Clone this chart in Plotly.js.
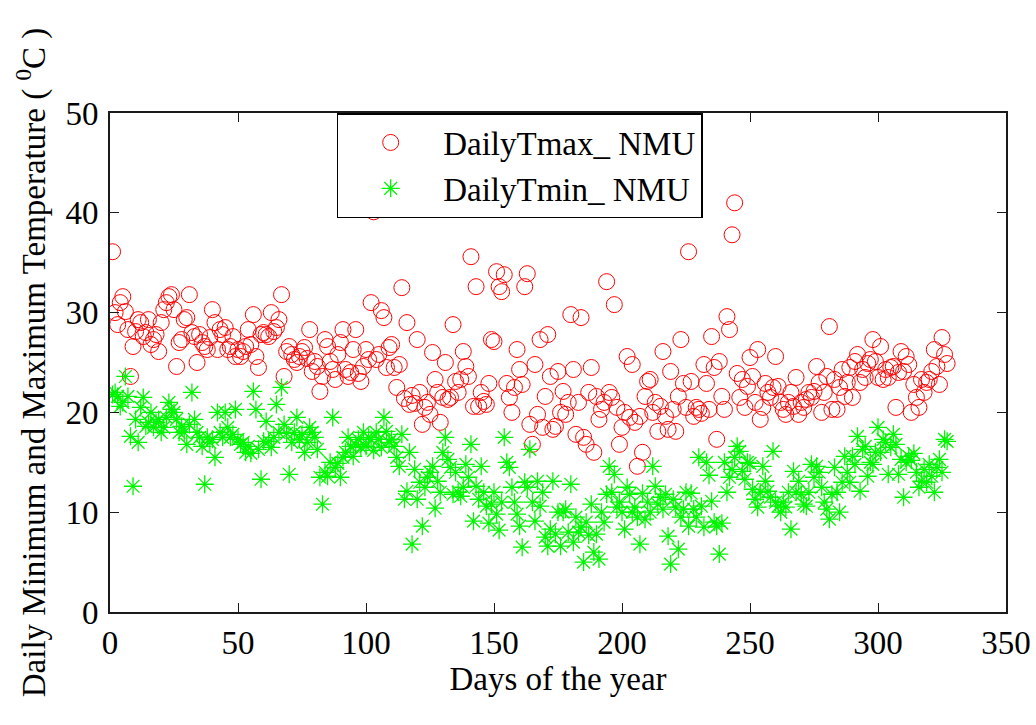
<!DOCTYPE html>
<html>
<head>
<meta charset="utf-8">
<script src="https://cdn.plot.ly/plotly-3.0.1.min.js"></script>
<style>html,body{margin:0;padding:0;background:#fff;}#chart{width:1036px;height:725px;}</style>
</head>
<body>
<div id="chart"></div>
<script>
// Daily maximum temperature (°C), day 1 .. 327
const tmax = [
36.1, 30.0, 28.8, 31.0, 31.6, 30.1, 28.3, 23.6, 26.6, 28.1,
29.3, 29.0, 27.6, 28.0, 29.3, 26.8, 27.3, 27.8, 26.1, 29.0,
30.3, 31.0, 31.6, 31.8, 30.3, 24.6, 27.0, 27.3, 29.3, 29.5,
31.8, 28.0, 27.6, 25.0, 27.8, 27.0, 26.6, 26.3, 27.5, 30.3,
29.0, 26.3, 28.3, 27.8, 28.5, 26.3, 26.6, 27.6, 25.6, 26.3,
25.6, 26.1, 26.6, 28.3, 26.8, 29.8, 25.6, 24.5, 27.8, 28.0,
27.8, 27.6, 30.0, 28.1, 28.5, 29.3, 31.8, 23.6, 26.1, 26.6,
25.8, 25.3, 25.0, 25.6, 26.1, 26.5, 25.4, 28.3, 24.1, 25.1,
24.6, 22.1, 23.6, 27.3, 26.6, 25.1, 24.3, 23.3, 25.8, 27.0,
28.3, 24.3, 23.6, 24.0, 26.3, 28.3, 23.9, 23.1, 24.6, 26.3,
25.3, 31.0, 40.1, 25.3, 25.8, 30.2, 29.5, 24.5, 26.5, 26.8,
24.5, 22.5, 24.8, 32.5, 21.4, 29.0, 20.8, 21.7, 20.9, 27.3,
22.0, 18.8, 20.5, 21.0, 19.8, 26.0, 23.3, 22.0, 19.0, 21.5,
25.0, 21.3, 21.5, 28.8, 23.1, 22.0, 23.3, 26.1, 24.6, 23.6,
35.6, 20.6, 32.6, 20.6, 22.0, 21.1, 20.8, 22.9, 27.3, 27.1,
34.1, 32.6, 32.1, 33.8, 22.9, 21.5, 20.0, 22.5, 26.3, 24.3,
22.8, 32.6, 33.9, 18.8, 16.8, 24.8, 19.8, 27.3, 18.5, 21.6,
27.8, 23.6, 18.3, 18.6, 24.1, 20.0, 22.1, 19.8, 21.0, 29.8,
24.3, 17.8, 21.0, 29.5, 17.5, 16.8, 22.0, 24.5, 16.0, 21.6,
19.3, 20.3, 21.0, 33.1, 22.0, 21.5, 30.8, 20.5, 16.8, 18.5,
20.0, 25.6, 19.5, 24.8, 19.0, 14.6, 19.6, 16.0, 21.6, 23.1,
23.3, 20.0, 21.0, 18.1, 20.6, 26.1, 19.6, 18.3, 24.1, 20.3,
18.1, 21.6, 27.3, 22.9, 20.5, 36.1, 23.1, 19.6, 20.5, 20.3,
19.9, 24.8, 22.9, 20.3, 27.6, 24.5, 17.3, 25.1, 21.6, 20.3,
29.6, 28.3, 37.8, 41.0, 23.9, 21.5, 23.3, 20.5, 22.6, 25.5,
23.6, 21.0, 26.3, 19.3, 20.5, 22.9, 22.0, 21.5, 22.5, 25.6,
22.6, 21.0, 20.3, 19.8, 21.0, 22.0, 20.6, 23.5, 19.8, 21.0,
20.5, 21.3, 22.0, 21.5, 22.1, 24.6, 23.0, 20.0, 22.0, 23.6,
28.6, 20.3, 23.3, 20.3, 22.5, 24.3, 21.6, 23.0, 24.5, 21.5,
25.1, 25.8, 23.0, 24.3, 23.5, 24.9, 25.3, 27.3, 25.1, 23.5,
26.6, 23.3, 24.3, 23.5, 24.5, 24.6, 20.5, 24.0, 26.1, 24.1,
25.6, 24.8, 20.0, 22.8, 21.5, 20.5, 23.3, 22.0, 23.0, 23.3,
24.1, 26.3, 24.6, 22.8, 27.5, 25.8, 24.9
];

// Daily minimum temperature (°C), day 1 .. 327
const tmin = [
21.8, 22.0, 21.6, 20.6, 21.0, 23.6, 21.6, 17.6, 12.6, 19.3,
17.0, 20.5, 21.5, 18.6, 19.0, 20.0, 18.5, 19.0, 19.3, 18.0,
18.5, 19.5, 21.0, 20.3, 20.0, 19.3, 18.0, 18.6, 18.0, 16.8,
18.8, 22.0, 19.3, 18.0, 17.5, 16.6, 12.8, 17.5, 17.0, 17.3,
15.5, 20.0, 18.0, 17.5, 20.0, 18.5, 17.5, 17.8, 20.3, 17.3,
16.8, 17.0, 16.0, 16.6, 15.9, 22.1, 20.3, 16.3, 13.3, 17.1,
19.1, 17.1, 16.5, 17.5, 20.8, 18.0, 22.5, 18.8, 17.9, 13.8,
17.0, 18.0, 19.5, 17.3, 17.8, 16.0, 17.0, 18.5, 18.0, 17.5,
16.3, 13.5, 10.8, 14.0, 13.6, 15.0, 19.5, 14.5, 14.9, 13.5,
15.5, 16.0, 17.5, 16.6, 15.6, 16.8, 17.3, 16.5, 18.0, 16.6,
17.5, 17.3, 16.2, 18.0, 17.3, 16.5, 19.5, 18.1, 17.0, 17.3,
16.6, 15.5, 14.6, 17.8, 11.3, 12.1, 16.0, 6.8, 14.3, 11.3,
13.0, 8.6, 12.5, 13.5, 14.0, 14.6, 10.4, 13.1, 12.0, 16.0,
17.5, 15.3, 14.5, 11.8, 14.0, 12.0, 11.6, 12.5, 14.8, 13.5,
16.8, 9.1, 12.6, 11.3, 14.6, 12.0, 10.6, 8.9, 10.8, 12.0,
9.8, 8.2, 11.0, 17.5, 15.0, 14.5, 12.5, 11.0, 9.8, 8.6,
6.5, 13.0, 12.5, 16.3, 11.0, 9.1, 13.1, 10.6, 12.0, 7.5,
6.6, 8.3, 13.1, 7.8, 10.0, 6.6, 10.0, 10.3, 8.0, 12.8,
7.0, 9.5, 8.0, 8.5, 5.0, 9.0, 7.7, 10.8, 6.0, 7.8,
5.3, 10.0, 9.0, 11.8, 14.6, 12.0, 13.8, 10.5, 11.0, 10.0,
8.3, 12.5, 11.8, 10.0, 10.5, 9.5, 6.8, 11.9, 9.3, 11.0,
10.0, 14.6, 12.6, 10.8, 11.5, 10.3, 11.8, 7.6, 4.8, 11.3,
10.5, 6.3, 9.5, 10.3, 12.0, 8.6, 11.9, 10.3, 9.5, 15.5,
10.6, 8.5, 15.0, 13.7, 11.1, 9.0, 8.6, 5.8, 8.9, 15.0,
12.0, 13.5, 14.3, 15.5, 16.6, 16.1, 14.1, 13.3, 15.0, 14.9,
12.3, 11.3, 10.5, 12.0, 14.6, 13.1, 12.1, 11.5, 16.1, 11.0,
10.6, 10.0, 11.0, 10.5, 12.0, 8.3, 14.1, 12.0, 13.1, 11.8,
10.8, 10.6, 12.0, 14.8, 13.5, 14.6, 14.0, 12.5, 11.0, 10.3,
9.3, 11.8, 14.5, 12.0, 10.0, 13.0, 15.6, 14.0, 13.0, 15.6,
14.8, 17.6, 12.1, 16.3, 16.6, 13.6, 15.0, 14.8, 16.0, 18.5,
16.0, 17.3, 17.0, 13.8, 16.5, 17.8, 16.8, 13.8, 15.3, 11.5,
15.0, 15.6, 15.2, 15.9, 14.0, 12.5, 13.1, 14.3, 13.0, 14.8,
13.6, 12.0, 14.5, 15.3, 14.0, 17.3, 17.1
];

// day index of each observation
const days = tmax.map((_, i) => i + 1);

const seriesNames = ["DailyTmax_ NMU", "DailyTmin_ NMU"];
const xTitle = "Days of the year";
const yTitle = "Daily Minimum and Maximum Temperature ( <sup>0</sup>C )";
const xTicks = [0, 50, 100, 150, 200, 250, 300, 350];
const yTicks = [0, 10, 20, 30, 40, 50];

const FONT = "Liberation Serif";
const FS = 33;

const traces = [
  {
    x: days, y: tmax, type: "scatter", mode: "markers", name: seriesNames[0],
    marker: {symbol: "circle-open", size: 16, color: "rgb(255,0,0)", line: {width: 1, color: "rgb(255,0,0)"}}
  },
  {
    x: days, y: tmin, type: "scatter", mode: "markers", name: seriesNames[1],
    marker: {symbol: "asterisk-open", size: 15, color: "rgb(0,245,0)", line: {width: 1.3, color: "rgb(0,245,0)"}}
  }
];

const axisCommon = {
  showgrid: false, zeroline: false, showline: true, linecolor: "#1a1a1a", linewidth: 2,
  mirror: "ticks", ticks: "inside", ticklen: 9, tickwidth: 1, tickcolor: "#1a1a1a",
  tickfont: {family: FONT, size: FS, color: "#000"}
};

const layout = {
  width: 1036, height: 725,
  margin: {l: 110, r: 30, t: 113, b: 113},
  paper_bgcolor: "#fff", plot_bgcolor: "#fff",
  font: {family: FONT, size: FS, color: "#000"},
  xaxis: Object.assign({}, axisCommon, {
    range: [0, 350], tickvals: xTicks, ticktext: xTicks.map(String),
    title: {text: xTitle, font: {family: FONT, size: FS, color: "#000"}, standoff: 2}
  }),
  yaxis: Object.assign({}, axisCommon, {
    range: [0, 50], tickvals: yTicks, ticktext: yTicks.map(String),
    ticklabelstandoff: 3,
    title: {text: yTitle, font: {family: FONT, size: FS, color: "#000"}, standoff: 10}
  }),
  showlegend: true,
  legend: {
    x: 0.253, y: 1, xanchor: "left", yanchor: "top",
    bgcolor: "#fff", bordercolor: "#000", borderwidth: 1.5,
    font: {family: FONT, size: FS, color: "#000"},
    itemwidth: 95, tracegroupgap: 0
  }
};

Plotly.newPlot("chart", traces, layout, {displayModeBar: false, staticPlot: true});
</script>
</body>
</html>
